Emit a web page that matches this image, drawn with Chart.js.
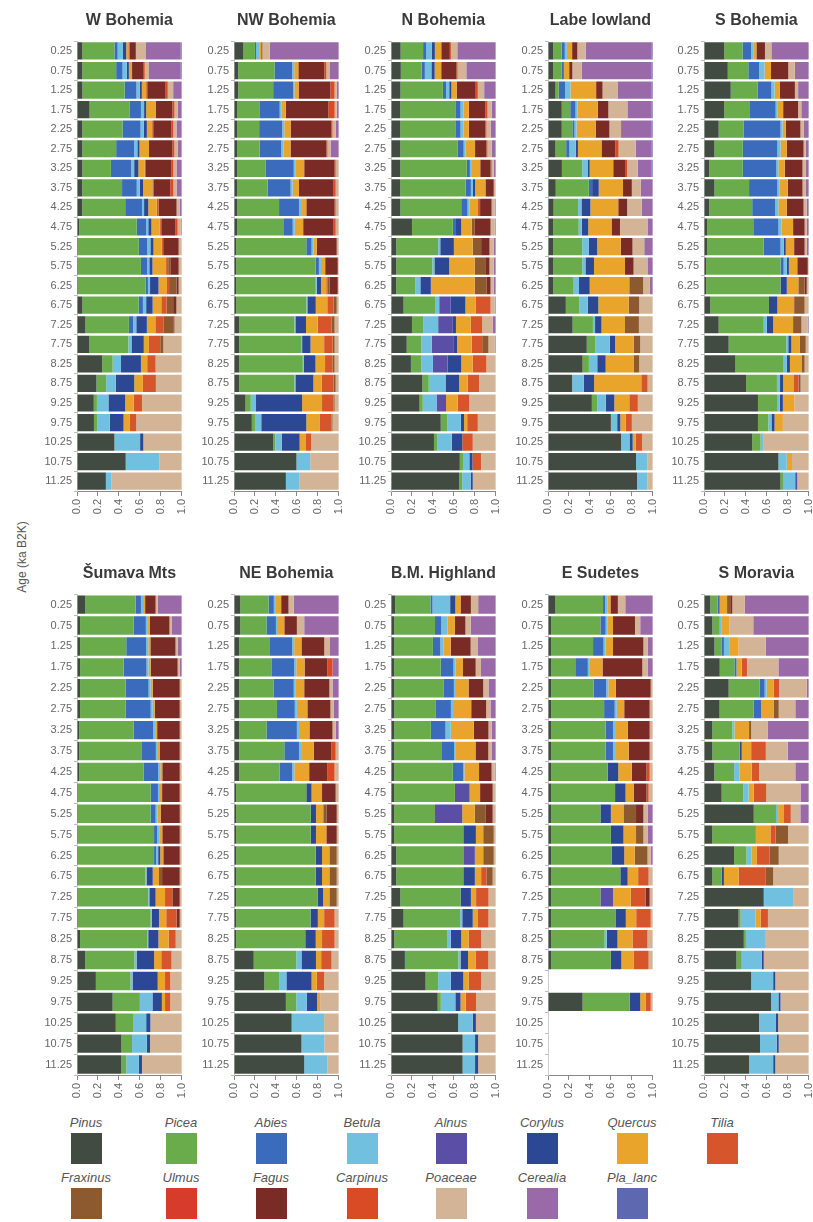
<!DOCTYPE html>
<html lang="en">
<head>
<meta charset="UTF-8">
<title>Holocene pollen composition by region</title>
<script src="https://cdn.jsdelivr.net/npm/chart.js"></script>
<style>
  body {
    margin: 0;
    width: 813px;
    height: 1222px;
    overflow: hidden;
    background: #fff;
    position: relative;
    font-family: "Liberation Sans", Arial, sans-serif;
  }
  canvas { position: absolute; }
  #ytitle {
    position: absolute;
    left: -38px;
    top: 550px;
    width: 120px;
    text-align: center;
    transform: rotate(-90deg);
    font-size: 12px;
    color: #555;
  }
  .lg {
    position: absolute;
    width: 90px;
    text-align: center;
    font-style: italic;
    font-size: 13px;
    line-height: 15px;
    color: #555;
  }
  .lg div { width: 31px; height: 31px; margin: 3px auto 0; }
</style>
</head>
<body>
<div id="ytitle">Age (ka B2K)</div>

<script>
// categories (ka B2K)
const ages = ['0.25','0.75','1.25','1.75','2.25','2.75','3.25','3.75','4.25','4.75','5.25','5.75',
              '6.25','6.75','7.25','7.75','8.25','8.75','9.25','9.75','10.25','10.75','11.25'];
const taxa = ['Pinus','Picea','Abies','Betula','Alnus','Corylus','Quercus','Tilia',
              'Fraxinus','Ulmus','Fagus','Carpinus','Poaceae','Cerealia','Pla_lanc'];
const taxonColors = ['#414b41','#6aac4b','#3a6bbd','#72c0e0','#5a4ea6','#2c4894','#e8a42b','#d6552b',
                     '#8c5a2e','#d63b2c','#7b2b25','#d84b24','#d4b496','#9a6aa8','#5d68b0'];
const xTicks = [0, 0.2, 0.4, 0.6, 0.8, 1.0];

// rows: one per age; columns in the order of taxa (percent)
const wBohemia = [
  [5,30,3,5,0,3,2,1,0,0,6,0,9,33,1],
  [5,32,6,4,0,2,3,0,0,0,11,1,4,30,1],
  [5,39,11,3,0,2,4,1,0,0,17,2,5,8,0],
  [12,38,11,3,0,2,9,0,0,0,16,2,3,4,0],
  [5,38,17,3,0,3,5,1,0,0,17,2,3,5,0],
  [5,32,17,3,0,2,9,0,0,0,22,2,3,4,0],
  [5,27,19,3,0,4,6,0,1,0,24,2,3,5,0],
  [5,38,14,3,0,3,9,0,1,0,16,3,3,5,0],
  [5,41,16,2,0,4,8,2,0,0,17,0,3,2,0],
  [2,55,9,2,0,3,8,1,1,0,13,2,3,1,0],
  [1,58,8,3,0,3,8,1,1,0,14,0,3,0,0],
  [1,60,6,2,0,3,13,2,2,0,8,0,3,0,0],
  [1,64,2,2,0,8,8,2,7,0,2,0,3,0,0],
  [5,52,4,3,0,6,8,5,6,0,3,0,5,0,0],
  [8,41,4,3,0,10,8,8,9,0,1,0,7,0,0],
  [12,38,0,3,0,12,5,11,3,0,0,0,18,0,0],
  [24,10,0,8,0,19,6,8,0,0,0,0,25,0,0],
  [18,9,0,9,0,17,8,12,0,0,0,0,24,0,0],
  [16,3,0,11,0,16,8,8,0,0,0,0,38,0,0],
  [16,3,0,12,0,13,6,6,0,0,0,0,43,0,0],
  [35,0,0,24,0,3,0,0,0,0,0,0,36,0,0],
  [46,0,0,32,0,0,0,0,0,0,0,0,21,0,0],
  [27,0,0,5,0,0,0,0,0,0,0,0,66,0,0]
];
const nwBohemia = [
  [9,11,1,3,0,0,2,0,0,0,1,0,7,66,0],
  [4,35,17,2,0,0,4,0,0,0,25,2,3,9,0],
  [4,33,19,1,0,0,4,0,0,0,30,4,2,2,0],
  [3,22,19,2,0,0,4,0,0,0,41,6,2,2,0],
  [3,21,22,2,0,0,6,0,0,0,39,1,3,3,0],
  [3,22,21,2,0,0,7,0,0,0,35,1,3,8,0],
  [3,27,27,2,0,0,8,0,0,0,29,1,3,0,0],
  [3,29,22,2,0,0,6,0,0,0,33,2,3,0,0],
  [3,40,19,2,0,0,5,0,0,0,27,1,3,0,0],
  [3,44,9,2,0,0,8,0,0,0,29,2,3,0,0],
  [2,67,5,2,0,0,3,0,0,0,19,0,2,0,0],
  [2,76,3,2,0,0,4,0,0,0,12,0,1,0,0],
  [2,76,0,1,0,4,5,1,2,0,8,0,1,0,0],
  [2,67,0,1,0,8,11,6,3,0,0,0,2,0,0],
  [5,52,0,1,0,10,11,13,3,0,0,0,4,0,0],
  [5,59,0,1,0,8,13,8,2,0,0,0,4,0,0],
  [5,60,0,1,0,11,9,7,2,0,0,0,4,0,0],
  [5,52,0,1,0,17,8,11,2,0,0,0,3,0,0],
  [11,5,0,5,0,44,19,11,1,0,0,0,4,0,0],
  [17,3,0,6,0,43,13,11,1,0,0,0,6,0,0],
  [37,2,0,6,0,17,6,5,0,0,0,0,26,0,0],
  [59,0,0,13,0,0,0,0,0,0,0,0,27,0,0],
  [49,0,0,13,0,0,0,0,0,0,0,0,37,0,0]
];
const nBohemia = [
  [9,21,3,5,0,3,6,0,0,0,8,1,6,36,0],
  [9,19,3,6,0,3,6,0,0,0,14,1,8,27,0],
  [9,40,3,3,0,2,5,0,0,0,18,2,6,11,0],
  [9,53,5,3,0,0,5,0,0,0,16,2,4,4,0],
  [9,53,5,3,0,0,5,0,0,0,16,1,4,5,0],
  [9,55,6,2,0,0,9,0,0,0,11,1,4,4,0],
  [9,64,3,2,0,0,8,0,0,0,10,1,2,2,0],
  [9,63,5,2,0,2,10,0,0,0,8,0,2,0,0],
  [9,58,6,2,0,0,8,2,0,0,11,0,3,1,0],
  [20,39,3,0,0,5,10,0,3,0,15,0,4,1,0],
  [5,40,0,2,0,13,18,0,8,0,8,0,4,2,0],
  [5,34,0,2,0,14,24,0,10,0,4,0,4,2,0],
  [5,18,0,5,0,10,42,0,11,0,4,0,3,2,0],
  [12,30,0,4,11,14,10,14,0,0,0,0,4,1,0],
  [20,11,0,14,14,3,14,11,0,0,0,0,10,3,0],
  [15,14,0,10,21,3,14,10,6,0,0,0,6,1,0],
  [19,10,0,11,14,13,11,13,0,0,0,0,9,0,0],
  [30,6,0,16,0,13,8,11,0,0,0,0,16,0,0],
  [27,3,0,13,9,0,11,11,0,0,0,0,25,0,0],
  [47,6,0,13,0,3,3,10,0,0,0,0,17,0,0],
  [41,3,0,14,0,10,0,10,0,0,0,0,22,0,0],
  [65,3,0,6,0,3,0,8,0,0,0,0,14,0,0],
  [65,3,0,8,0,2,0,0,0,0,0,0,22,0,0]
];
const labeLowland = [
  [5,8,3,2,0,0,5,0,0,0,5,0,8,63,1],
  [5,8,2,0,0,0,5,0,0,0,3,0,9,66,1],
  [7,3,6,5,0,0,24,0,0,0,6,0,14,32,1],
  [13,8,5,2,0,0,19,0,0,0,10,0,18,23,1],
  [13,10,2,2,0,0,18,0,0,0,13,0,11,29,1],
  [7,10,3,6,0,2,22,0,0,0,13,3,16,15,1],
  [13,19,0,5,0,2,22,0,0,0,11,2,10,13,1],
  [7,30,3,0,0,6,22,0,0,0,8,0,8,11,0],
  [5,22,0,3,0,8,25,0,0,0,8,0,13,10,0],
  [5,24,0,3,0,6,22,0,0,0,8,0,26,5,0],
  [5,27,0,6,0,8,22,0,0,0,11,0,11,8,0],
  [5,27,0,3,0,8,29,0,0,0,8,0,13,5,0],
  [5,19,0,5,0,10,37,0,13,0,0,0,6,3,0],
  [17,13,0,8,0,10,29,0,10,0,0,0,13,0,0],
  [23,19,0,2,0,6,22,0,13,0,0,0,13,0,0],
  [37,8,0,14,0,5,18,0,6,0,0,0,12,0,0],
  [33,6,0,8,0,8,27,0,5,0,0,0,13,0,0],
  [23,0,0,11,0,10,45,6,0,0,0,0,5,0,0],
  [41,5,0,8,0,8,14,8,0,0,0,0,14,0,0],
  [60,0,0,6,0,3,5,6,0,0,0,0,20,0,0],
  [69,0,0,8,0,3,3,6,0,0,0,0,10,0,0],
  [84,0,0,11,0,0,0,0,0,0,0,0,5,0,0],
  [85,0,0,10,0,0,0,0,0,0,0,0,5,0,0]
];
const sBohemia = [
  [19,17,8,2,0,0,3,0,0,0,8,0,6,35,0],
  [22,19,10,5,0,0,6,0,0,0,16,0,6,13,0],
  [25,25,13,3,0,0,5,0,0,0,14,0,3,10,0],
  [19,24,24,2,0,0,5,0,0,0,14,0,3,7,0],
  [14,24,35,2,0,0,3,0,0,0,14,0,3,5,0],
  [10,27,33,3,0,0,6,0,0,0,16,0,2,3,0],
  [5,32,32,2,0,0,6,0,0,0,17,0,3,3,0],
  [10,33,27,2,0,0,8,0,0,0,14,0,3,3,0],
  [5,41,22,3,0,0,8,0,0,0,16,0,3,2,0],
  [3,44,24,3,0,0,11,0,0,0,11,0,2,2,0],
  [3,54,16,3,0,2,8,0,0,0,10,0,2,2,0],
  [2,71,3,3,0,2,8,0,0,0,10,0,1,0,0],
  [2,71,0,0,0,6,11,0,6,0,2,0,2,0,0],
  [6,56,0,0,0,8,16,0,10,0,0,0,4,0,0],
  [14,43,0,3,0,6,19,0,8,0,0,0,6,1,0],
  [24,56,0,2,0,3,8,0,6,0,0,0,3,0,0],
  [30,46,0,3,0,3,11,0,3,0,0,0,4,0,0],
  [41,30,0,3,0,3,10,5,2,0,0,0,8,0,0],
  [52,19,0,2,0,3,11,0,0,0,0,0,14,0,0],
  [52,10,0,3,0,3,8,0,0,0,0,0,25,0,0],
  [46,8,0,3,0,0,0,0,0,0,0,0,43,0,0],
  [71,0,0,8,0,0,5,0,0,0,0,0,16,0,0],
  [73,3,0,11,2,0,0,0,0,0,0,0,11,0,0]
];
const sumavaMts = [
  [8,48,5,2,0,0,2,0,0,0,10,0,2,23,0],
  [3,52,12,2,0,0,2,0,0,0,19,0,2,10,0],
  [3,44,19,2,0,0,2,0,0,0,24,0,2,4,0],
  [3,42,22,2,0,0,2,0,0,0,26,0,2,2,0],
  [3,44,22,2,0,0,2,0,0,0,26,0,2,0,0],
  [3,44,24,2,0,0,2,0,0,0,24,0,2,0,0],
  [2,53,19,2,0,0,2,0,0,0,22,0,2,0,0],
  [2,60,14,2,0,0,2,0,0,0,19,0,2,0,0],
  [2,63,14,2,0,0,2,0,0,0,17,0,2,0,0],
  [1,70,7,2,0,0,2,0,0,0,17,0,2,0,0],
  [1,72,5,2,0,0,3,0,0,0,19,0,2,0,0],
  [1,74,3,2,0,0,3,0,0,0,17,0,2,0,0],
  [1,74,2,2,0,2,3,0,0,0,16,0,2,0,0],
  [1,65,0,1,0,6,6,0,3,0,17,0,2,0,0],
  [1,67,0,1,0,6,9,7,0,0,7,0,2,0,0],
  [1,70,0,1,0,7,7,10,0,0,3,0,2,0,0],
  [3,66,0,1,0,10,10,7,0,0,0,0,6,0,0],
  [8,48,0,2,0,17,7,10,0,0,0,0,10,0,0],
  [18,33,0,2,0,24,7,5,0,0,0,0,11,0,0],
  [34,26,0,12,0,9,3,5,0,0,0,0,11,0,0],
  [37,17,0,12,0,4,0,0,0,0,0,0,30,0,0],
  [42,10,0,14,0,3,0,0,0,0,0,0,30,0,0],
  [42,5,0,12,0,3,0,0,0,0,0,0,38,0,0]
];
const neBohemia = [
  [6,27,5,2,0,0,5,0,0,0,7,0,5,43,0],
  [6,25,9,2,0,0,6,0,0,0,12,0,7,33,0],
  [5,29,22,2,0,0,7,0,0,0,22,0,5,9,0],
  [5,31,22,2,0,0,8,0,0,0,22,5,0,6,0],
  [5,33,19,2,0,0,8,0,0,0,24,0,3,6,0],
  [5,36,17,2,0,0,10,0,0,0,22,0,3,5,0],
  [5,26,29,2,0,0,10,0,0,0,22,0,3,3,0],
  [5,43,14,2,0,0,12,0,0,0,17,4,3,0,0],
  [5,38,12,2,0,0,14,0,0,0,17,7,4,0,0],
  [2,67,0,0,0,5,10,0,0,0,13,0,3,0,0],
  [2,72,0,0,0,5,7,0,3,0,10,0,2,0,0],
  [2,72,0,0,0,5,10,0,0,0,10,0,2,0,0],
  [2,76,0,0,0,6,7,0,7,0,0,0,2,0,0],
  [2,76,0,0,0,6,7,0,7,0,0,0,2,0,0],
  [2,78,0,0,0,5,6,0,7,0,0,0,2,0,0],
  [2,71,0,0,0,7,6,10,0,0,0,0,4,0,0],
  [2,66,0,0,0,10,6,12,0,0,0,0,4,0,0],
  [19,41,0,5,0,14,5,10,0,0,0,0,7,0,0],
  [29,14,0,7,0,24,5,7,0,0,0,0,14,0,0],
  [50,10,0,10,0,10,3,0,0,0,0,0,18,0,0],
  [55,0,0,31,0,0,0,0,0,0,0,0,14,0,0],
  [65,0,0,22,0,0,0,0,0,0,0,0,14,0,0],
  [67,0,0,22,0,0,0,0,0,0,0,0,11,0,0]
];
const bmHighland = [
  [4,34,2,17,0,5,5,0,0,0,10,0,7,17,0],
  [3,39,6,6,0,0,7,0,0,0,10,0,5,24,0],
  [3,37,7,3,0,0,7,0,0,0,19,0,7,17,0],
  [3,44,12,2,0,0,7,0,0,0,12,0,5,14,0],
  [3,47,10,2,0,0,12,0,0,0,14,0,5,7,0],
  [3,39,14,2,0,0,17,0,0,0,14,0,4,5,0],
  [3,35,14,5,0,0,22,0,0,0,14,0,3,4,0],
  [3,44,12,1,0,0,19,0,0,0,12,0,3,4,0],
  [3,56,10,1,0,0,14,0,0,0,12,0,3,1,0],
  [3,58,0,0,14,0,10,0,0,0,12,0,3,0,0],
  [3,39,0,0,26,0,12,0,10,0,7,0,3,0,0],
  [3,66,0,0,0,12,7,0,10,0,0,0,2,0,0],
  [5,64,0,0,11,0,8,0,10,0,0,0,2,0,0],
  [5,64,0,0,0,11,6,5,6,0,0,0,3,0,0],
  [9,58,0,0,0,10,5,12,0,0,0,0,7,0,0],
  [12,54,0,2,0,10,5,10,0,0,0,0,7,0,0],
  [3,51,0,3,0,10,7,12,0,0,0,0,14,0,0],
  [13,50,0,2,0,7,7,12,0,0,0,0,7,0,0],
  [33,12,0,12,0,12,5,12,0,0,0,0,14,0,0],
  [45,3,0,14,0,5,5,10,0,0,0,0,19,0,0],
  [64,0,0,14,0,3,0,0,0,0,0,0,19,0,0],
  [69,0,0,12,0,3,0,0,0,0,0,0,17,0,0],
  [69,0,0,12,0,3,0,0,0,0,0,0,17,0,0]
];
const eSudetes = [
  [7,45,2,2,0,0,3,0,0,0,7,0,7,26,0],
  [3,47,5,2,0,0,5,0,0,0,21,0,5,12,0],
  [3,40,10,2,0,0,7,0,0,0,29,0,4,5,0],
  [3,23,12,2,0,0,12,0,0,0,38,0,5,5,0],
  [3,40,12,2,0,0,7,0,0,0,33,0,2,0,0],
  [3,50,10,2,0,0,7,0,0,0,24,0,3,0,0],
  [3,52,7,2,0,0,12,0,0,0,21,0,3,0,0],
  [3,52,7,2,0,0,13,0,0,0,20,0,3,0,0],
  [3,54,0,0,0,10,13,0,0,0,14,3,3,0,0],
  [3,61,0,0,0,10,8,0,0,0,12,2,4,0,0],
  [3,47,0,0,0,10,12,0,12,0,7,0,4,5,0],
  [3,57,0,0,0,12,12,0,7,0,0,0,4,5,0],
  [3,57,0,0,0,12,10,0,12,0,0,0,3,2,0],
  [3,66,0,0,0,7,10,10,0,0,0,0,4,0,0],
  [3,47,0,0,12,0,17,14,0,0,4,0,3,0,0],
  [3,62,0,0,0,10,10,14,0,0,0,0,2,0,0],
  [3,50,0,2,0,10,14,14,0,0,0,0,5,0,0],
  [3,57,0,0,0,10,12,14,0,0,0,0,4,0,0],
  null,
  [33,45,0,0,0,10,5,5,0,0,0,0,2,0,0],
  null,
  null,
  null
];
const sMoravia = [
  [6,7,2,0,0,0,7,0,3,0,2,0,12,61,0],
  [8,7,0,2,0,0,7,0,0,0,0,0,23,53,0],
  [10,7,2,5,0,0,9,0,0,0,0,0,26,41,0],
  [15,14,2,0,0,0,5,5,0,0,0,0,30,29,0],
  [24,30,5,2,0,0,7,5,0,0,0,0,27,2,0],
  [15,33,7,0,0,0,12,0,5,0,0,0,16,13,0],
  [8,19,0,2,0,0,14,0,2,0,0,0,16,39,0],
  [8,26,0,0,0,2,9,14,0,0,0,0,21,20,0],
  [10,19,0,5,0,0,12,7,0,0,0,0,35,13,0],
  [17,21,0,5,0,0,5,12,0,0,0,0,33,8,0],
  [47,21,0,2,0,0,5,7,0,0,0,0,9,8,0],
  [8,42,0,0,0,0,14,5,12,0,0,0,20,0,0],
  [29,12,0,5,0,0,5,12,9,0,0,0,29,0,0],
  [8,9,0,0,0,2,14,26,7,0,0,0,34,0,0],
  [57,0,0,28,0,0,0,0,0,0,0,0,15,0,0],
  [33,2,0,14,0,0,5,7,0,0,0,0,39,0,0],
  [38,2,0,19,0,0,0,0,0,0,0,0,41,0,0],
  [31,5,0,19,0,2,0,0,0,0,0,0,43,0,0],
  [45,0,0,21,0,2,0,0,0,0,0,0,32,0,0],
  [64,0,0,7,0,2,0,0,0,0,0,0,27,0,0],
  [52,0,0,16,0,2,0,0,0,0,0,0,29,0,0],
  [54,0,0,16,0,2,0,0,0,0,0,0,29,0,0],
  [43,0,0,23,0,2,0,0,0,0,0,0,32,0,0]
];

Chart.defaults.font.family = '"Liberation Sans", Arial, sans-serif';
Chart.defaults.animation = false;

const colLeft = [77, 234, 391, 548, 704];   // left edge of the bars in each column
const panels = [
  { title: 'W Bohemia',    rows: wBohemia,    col: 0, top: 0,   height: 531 },
  { title: 'NW Bohemia',   rows: nwBohemia,   col: 1, top: 0,   height: 531 },
  { title: 'N Bohemia',    rows: nBohemia,    col: 2, top: 0,   height: 531 },
  { title: 'Labe lowland', rows: labeLowland, col: 3, top: 0,   height: 531 },
  { title: 'S Bohemia',    rows: sBohemia,    col: 4, top: 0,   height: 531 },
  { title: 'Šumava Mts',   rows: sumavaMts,   col: 0, top: 553, height: 562 },
  { title: 'NE Bohemia',   rows: neBohemia,   col: 1, top: 553, height: 562 },
  { title: 'B.M. Highland',rows: bmHighland,  col: 2, top: 553, height: 562 },
  { title: 'E Sudetes',    rows: eSudetes,    col: 3, top: 553, height: 562 },
  { title: 'S Moravia',    rows: sMoravia,    col: 4, top: 553, height: 562 }
];

function makePanel(p) {
  const cv = document.createElement('canvas');
  cv.width = 161;
  cv.height = p.height;
  cv.style.left = (colLeft[p.col] - 40) + 'px';
  cv.style.top = p.top + 'px';
  document.body.appendChild(cv);

  const datasets = taxa.map((name, j) => ({
    label: name,
    data: p.rows.map(r => r ? r[j] / r.reduce((a, b) => a + b, 0) : null),
    backgroundColor: taxonColors[j],
    borderWidth: 0,
    barPercentage: 0.88,
    categoryPercentage: 1
  }));

  new Chart(cv, {
    type: 'bar',
    data: { labels: ages, datasets: datasets },
    options: {
      indexAxis: 'y',
      responsive: false,
      layout: { padding: { left: 0, right: 8, top: 0, bottom: 0 } },
      plugins: {
        legend: { display: false },
        tooltip: { enabled: false },
        title: {
          display: true,
          text: p.title,
          fullSize: false,
          color: '#3a3a3a',
          font: { size: 16, weight: 'bold' },
          padding: { top: 11, bottom: 11 }
        }
      },
      scales: {
        x: {
          stacked: true,
          min: 0,
          max: 1,
          afterBuildTicks: s => { s.ticks = xTicks.map(v => ({ value: v })); },
          afterFit: s => { s.height = 40; },
          ticks: {
            autoSkip: false,
            minRotation: 90,
            maxRotation: 90,
            padding: 3,
            color: '#666',
            font: { size: 11 },
            callback: v => Number(v).toFixed(1)
          },
          grid: { drawOnChartArea: false, drawTicks: true, tickLength: 5, color: '#888' },
          border: { display: true, color: '#888' }
        },
        y: {
          stacked: true,
          afterFit: s => { s.width = 40; },
          ticks: { color: '#666', font: { size: 11 }, padding: 2, autoSkip: false },
          grid: { drawOnChartArea: false, drawTicks: true, tickLength: 3, color: '#bbb' },
          border: { display: true, color: '#ccc' }
        }
      }
    }
  });
}

panels.forEach(makePanel);

// legend: two rows of labelled colour squares
const legendX = [86, 181, 271, 362, 451, 542, 632, 722];
taxa.forEach((name, j) => {
  const row = j < 8 ? 0 : 1;
  const col = j < 8 ? j : j - 8;
  const el = document.createElement('div');
  el.className = 'lg';
  el.style.left = (legendX[col] - 45) + 'px';
  el.style.top = (row === 0 ? 1115 : 1170) + 'px';
  el.innerHTML = name + '<div style="background:' + taxonColors[j] + '"></div>';
  document.body.appendChild(el);
});
</script>
</body>
</html>
